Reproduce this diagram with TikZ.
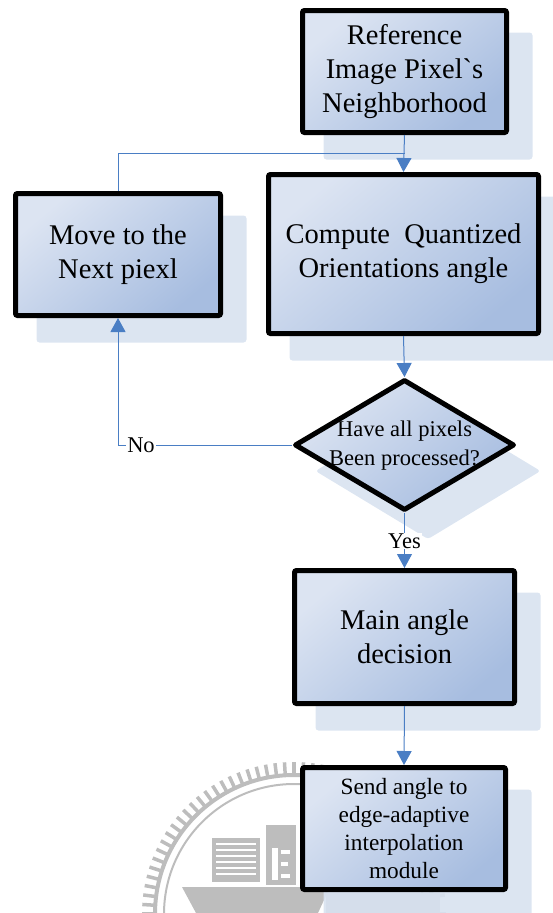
\documentclass[tikz,border=0pt]{standalone}
\usepackage{fontspec}
\setmainfont{Liberation Serif}[Ligatures=TeXOff]
\usetikzlibrary{arrows.meta,shapes.geometric,backgrounds}

\definecolor{boxlight}{HTML}{DCE4F2}
\definecolor{boxmid}{HTML}{BFCFE8}
\definecolor{boxdark}{HTML}{A7BDE0}
\definecolor{shadowc}{HTML}{D8E2F0}
\definecolor{linkc}{HTML}{4A7EC4}
\definecolor{markc}{HTML}{BDBDBD}

\newcommand\bigtxt{\fontsize{28.5}{34}\selectfont}
\newcommand\midtxt{\fontsize{22.5}{29}\selectfont}
\newcommand\smalltxt{\fontsize{23.3}{28}\selectfont}

\begin{document}
\begin{tikzpicture}[x=1pt,y=-1pt,
  bluefill/.style={top color=boxlight, middle color=boxmid, bottom color=boxdark,
    shading angle=40},
  stepbox/.style={draw=black, line width=5pt, rounded corners=2pt, bluefill,
    align=center, inner sep=0pt, font=\bigtxt},
  decision/.style={diamond, draw=black, line width=5pt, line join=round,
    bluefill, inner sep=0pt},
  link/.style={draw=linkc, line width=1pt,
    -{Triangle[width=15pt,length=14pt]}, fill=none},
  plainlink/.style={draw=linkc, line width=1pt},
  lbl/.style={fill=white, inner sep=1pt, font=\midtxt},
  shadowbox/.style={fill=shadowc, opacity=0.9, rounded corners=3pt}]

\useasboundingbox (0,0) rectangle (552,913);

% process steps and the decision
\node[stepbox, minimum width=204, minimum height=122] (ref) at (404.5,71.5)
  {Reference\\Image Pixel`s\\Neighborhood};
\node[stepbox, minimum width=270, minimum height=159] (cmp) at (403.5,254)
  {Compute\ \ Quantized\\Orientations angle};
\node[stepbox, minimum width=205, minimum height=122] (mv) at (118,254.5)
  {Move to the\\Next piexl};
\node[decision, minimum width=220, minimum height=131] (dia) at (404.5,445) {};
\node[font=\midtxt, align=center] (diatext) at (404.5,446)
  {Have all pixels\\Been processed?};
\node[stepbox, minimum width=220, minimum height=133] (main) at (404.5,637)
  {Main angle\\decision};
\node[stepbox, minimum width=203, minimum height=122, font=\smalltxt] (send) at (404,828.5)
  {Send angle to\\edge-adaptive\\interpolation\\module};

% connectors
\coordinate (join) at (ref.south |- 0,153);
\draw[link] (ref.south) -- (cmp.north);
\draw[plainlink] (mv.north) |- (join);
\draw[link] (cmp.south) -- (dia.north);
\draw[link] (dia.west) -| (mv.south);
\draw[link] (dia.south) -- (main.north);
\draw[link] (main.south) -- (send.north);
\node[lbl] (no) at (141,445) {No};
\node[lbl] (yes) at (404.5,541) {Yes};

\begin{scope}[on background layer]
  % faint seal in the paper behind the chart
  \begin{scope}
    \clip (0,0) rectangle (552,913);
    \foreach \a in {0,3.6,...,356.4}
      \draw[markc, line width=3.5pt] (294,914) ++(\a:139) -- ++(\a:13);
    \draw[markc, line width=4pt] (294,914) circle[radius=139];
    \draw[markc, line width=2pt] (294,914) circle[radius=130];
    \fill[markc] (212,838) rectangle (260,882);
    \foreach \yy in {844,850,...,878}
      \draw[white, line width=1.4pt] (216,\yy) -- (256,\yy);
    \fill[markc] (266,825) rectangle (296,885);
    \fill[white] (272,848) rectangle (278,880);
    \fill[white] (281,850) rectangle (290,854);
    \fill[white] (281,862) rectangle (288,866);
    \fill[white] (281,874) rectangle (290,878);
    \fill[markc] (182,887) -- (330,887) -- (318,913) -- (196,913) -- cycle;
    \fill[markc] (326,893) rectangle (440,913);
  \end{scope}
  % offset shadows
  \foreach \b in {ref,cmp,mv,main,send}
    \fill[shadowbox] ([shift={(23.5,24.5)}]\b.north west)
      rectangle ([shift={(23.5,24.5)}]\b.south east);
  \fill[shadowbox] ([shift={(23.5,26)}]dia.north) -- ([shift={(23.5,26)}]dia.east)
    -- ([shift={(23.5,26)}]dia.south) -- ([shift={(23.5,26)}]dia.west) -- cycle;
\end{scope}
\end{tikzpicture}
\end{document}
